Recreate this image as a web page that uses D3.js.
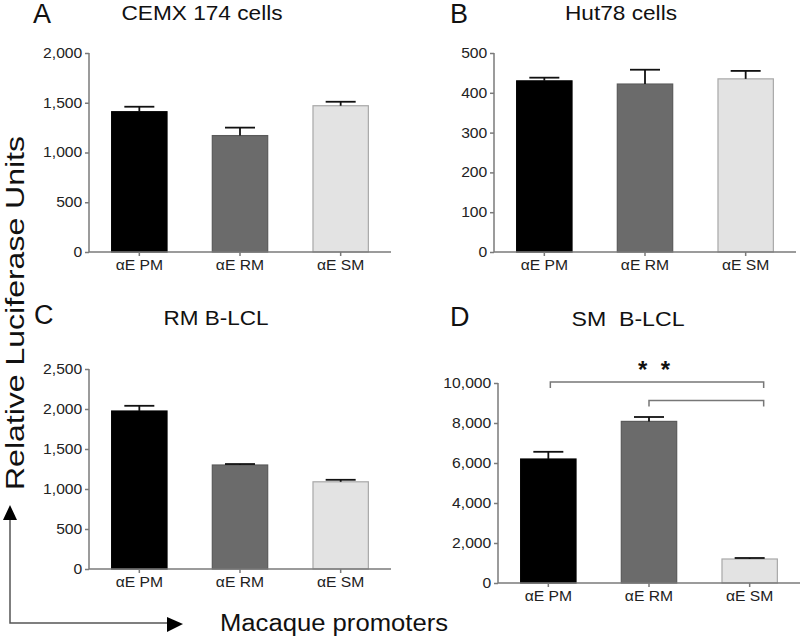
<!DOCTYPE html>
<html>
<head>
<meta charset="utf-8">
<script src="https://cdn.jsdelivr.net/npm/d3@7"></script>
<style>
  html, body { margin: 0; padding: 0; background: #fff; }
  svg { display: block; font-family: "Liberation Sans", Arial, Helvetica, sans-serif; }
</style>
</head>
<body>
<svg id="chart" width="800" height="639"></svg>
<script>
// ---- data ----
const categories = ["αE PM", "αE RM", "αE SM"];
const panelLetters = ["A", "B", "C", "D"];
const panelTitles = ["CEMX 174 cells", "Hut78 cells", "RM B-LCL", "SM  B-LCL"];
const meansA = [1410, 1170, 1470];
const errorsA = [50, 80, 40];
const meansB = [430, 422, 435];
const errorsB = [8, 36, 20];
const meansC = [1975, 1300, 1090];
const errorsC = [65, 12, 25];
const meansD = [6200, 8080, 1200];
const errorsD = [360, 220, 50];
const yMaxes = [2000, 500, 2500, 10000];
const yTickSteps = [500, 100, 500, 2000];
const bracketsD = [ { from: "αE PM", to: "αE SM", value: 10050 },
                    { from: "αE RM", to: "αE SM", value: 9120 } ];
const significanceLabel = "*  *";
const yAxisTitle = "Relative Luciferase Units";
const xAxisTitle = "Macaque promoters";

// ---- layout ----
const svg = d3.select("#chart");
svg.append("rect").attr("width", 800).attr("height", 639).attr("fill", "#fff");

const layout = [
  { axisX: 89,  y0: 252, yTop: 53,  letterX: 33,  letterY: 23,  titleX: 202, titleY: 20,  titleW: 161 },
  { axisX: 494, y0: 252, yTop: 53,  letterX: 450, letterY: 23,  titleX: 621, titleY: 20,  titleW: 112 },
  { axisX: 89,  y0: 569, yTop: 369, letterX: 34,  letterY: 324, titleX: 216, titleY: 325, titleW: 105 },
  { axisX: 498, y0: 583, yTop: 383, letterX: 450, letterY: 326, titleX: 628, titleY: 326, titleW: 113 }
];
const panelData = [
  { means: meansA, errors: errorsA },
  { means: meansB, errors: errorsB },
  { means: meansC, errors: errorsC },
  { means: meansD, errors: errorsD }
];
const barFill = ["#000000", "#6b6b6b", "#e3e3e3"];
const barStroke = ["#000000", "#5a5a5a", "#a8a8a8"];
const axisColor = "#7a7a7a";
const textColor = "#222";
const sx = 1.12;

panelData.forEach((pd, i) => {
  const L = layout[i];
  const g = svg.append("g");
  const x = d3.scaleBand().domain(categories).range([L.axisX, L.axisX + 302])
              .paddingInner(0.44).paddingOuter(0.22);
  const y = d3.scaleLinear().domain([0, yMaxes[i]]).range([L.y0, L.yTop]);
  const ticks = d3.range(0, yMaxes[i] + 1, yTickSteps[i]);

  // bars
  g.selectAll("rect.bar").data(categories).join("rect")
    .attr("x", d => x(d) + 0.5)
    .attr("width", x.bandwidth() - 1)
    .attr("y", (d, k) => y(pd.means[k]))
    .attr("height", (d, k) => y(0) - y(pd.means[k]))
    .attr("fill", (d, k) => barFill[k])
    .attr("stroke", (d, k) => barStroke[k])
    .attr("stroke-width", 1.2);

  // error bars (upper only)
  const capW = 30;
  categories.forEach((c, k) => {
    const cx = x(c) + x.bandwidth() / 2;
    const top = y(pd.means[k] + pd.errors[k]);
    g.append("line").attr("x1", cx).attr("x2", cx)
      .attr("y1", y(pd.means[k])).attr("y2", top)
      .attr("stroke", "#111").attr("stroke-width", 1.8);
    g.append("line").attr("x1", cx - capW / 2).attr("x2", cx + capW / 2)
      .attr("y1", top).attr("y2", top)
      .attr("stroke", "#111").attr("stroke-width", 1.8);
  });

  // y axis
  const yAxis = g.append("g").attr("transform", `translate(${L.axisX},0)`)
    .call(d3.axisLeft(y).tickValues(ticks).tickSize(4).tickPadding(2)
      .tickFormat(yMaxes[i] >= 1000 ? d3.format(",") : d3.format("d")));
  // x axis
  const xAxis = g.append("g").attr("transform", `translate(0,${L.y0})`)
    .call(d3.axisBottom(x).tickSize(4).tickPadding(4));
  xAxis.select(".domain").attr("d", `M${L.axisX},0H${L.axisX + 302}`);
  yAxis.select(".domain").attr("d", `M0,${L.y0}V${L.yTop}`);
  [yAxis, xAxis].forEach(ax => {
    ax.selectAll(".domain").attr("stroke", axisColor).attr("stroke-width", 1.5);
    ax.selectAll(".tick line").attr("stroke", axisColor).attr("stroke-width", 1.5);
    ax.selectAll(".tick text").attr("fill", textColor).attr("font-size", 14)
      .attr("font-family", "Liberation Sans, Arial, sans-serif")
      .attr("transform", `scale(${sx},1)`);
  });

  // panel letter and title
  g.append("text").attr("x", L.letterX).attr("y", L.letterY)
    .attr("font-size", 27).attr("fill", "#111").text(panelLetters[i]);
  g.append("text").attr("x", L.titleX - L.titleW / 2).attr("y", L.titleY)
    .attr("font-size", 21).attr("fill", "#111")
    .attr("textLength", L.titleW).attr("lengthAdjust", "spacingAndGlyphs")
    .style("white-space", "pre")
    .text(panelTitles[i]);

  // significance brackets on panel D
  if (i === 3) {
    bracketsD.forEach((b, bi) => {
      const x1 = x(b.from) + x.bandwidth() / 2 + (bi === 0 ? 2 : 0);
      const x2 = x(b.to) + x.bandwidth() / 2 + 14;
      const yy = y(b.value);
      g.append("path")
        .attr("d", `M${x1},${yy + 6}V${yy}H${x2}V${yy + 6}`)
        .attr("fill", "none").attr("stroke", "#777").attr("stroke-width", 1.5);
    });
    const b0 = bracketsD[0];
    const midX = (x(b0.from) + x(b0.to) + x.bandwidth()) / 2 + 5;
    g.append("text").attr("x", midX).attr("y", y(b0.value) - 4)
      .attr("text-anchor", "middle").attr("font-size", 24).attr("font-weight", "bold")
      .attr("fill", "#111").style("white-space", "pre").text(significanceLabel);
  }
});

// overall axis titles and arrows
svg.append("text")
  .attr("transform", "translate(24,313) rotate(-90)")
  .attr("text-anchor", "middle")
  .attr("font-size", 25).attr("fill", "#111")
  .attr("textLength", 354).attr("lengthAdjust", "spacingAndGlyphs")
  .text(yAxisTitle);

svg.append("text").attr("x", 220).attr("y", 631)
  .attr("font-size", 23).attr("fill", "#111")
  .attr("textLength", 228).attr("lengthAdjust", "spacingAndGlyphs")
  .text(xAxisTitle);

svg.append("path").attr("d", "M10,519V623H168")
  .attr("fill", "none").attr("stroke", "#555").attr("stroke-width", 1.5);
svg.append("path").attr("d", "M10,505L3,520L17,520Z").attr("fill", "#000");
svg.append("path").attr("d", "M183,624L167,617L167,632Z").attr("fill", "#000");
</script>
</body>
</html>
